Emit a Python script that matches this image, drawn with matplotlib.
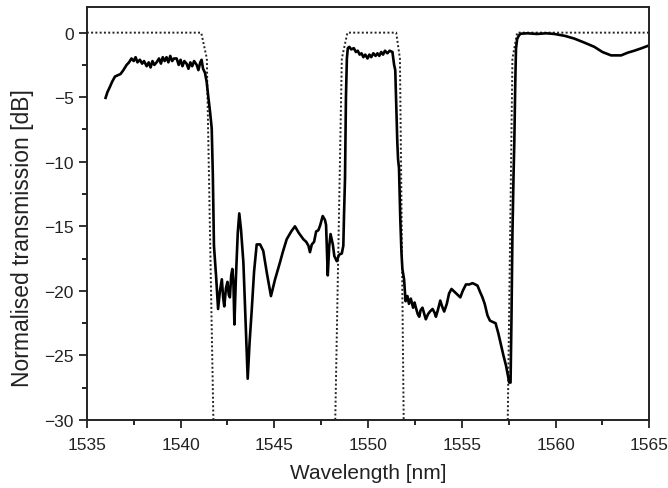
import matplotlib.pyplot as plt
from matplotlib.ticker import MultipleLocator

plt.rcParams['font.family'] = ['Liberation Sans', 'DejaVu Sans']

# target filter response (dotted)
design_x = [1535, 1541.1, 1541.4, 1541.75, 1548.25, 1548.6, 1548.9, 1551.5,
            1551.7, 1551.9, 1557.45, 1557.7, 1557.95, 1565]
design_y = [0, 0, -2, -30, -30, -2, 0, 0, -2, -30, -30, -2, 0, 0]

# measured transmission (solid)
meas_x = [1536.0, 1536.1, 1536.23, 1536.35, 1536.5, 1536.65, 1536.8, 1536.95,
          1537.12, 1537.25, 1537.38, 1537.5, 1537.6, 1537.7, 1537.83, 1537.95,
          1538.05, 1538.19, 1538.3, 1538.4, 1538.5, 1538.6, 1538.72, 1538.85,
          1538.95, 1539.05, 1539.15, 1539.25, 1539.35, 1539.45, 1539.55, 1539.65,
          1539.79, 1539.9, 1540.0, 1540.1, 1540.2, 1540.32, 1540.42, 1540.52,
          1540.62, 1540.72, 1540.86, 1540.95, 1541.05, 1541.12, 1541.2, 1541.3,
          1541.39, 1541.48, 1541.57, 1541.66, 1541.72, 1541.78,
          1541.83, 1541.9, 1542.0, 1542.1, 1542.2, 1542.27, 1542.33, 1542.42,
          1542.5, 1542.57, 1542.63, 1542.7, 1542.76, 1542.82, 1542.87, 1542.95,
          1543.05, 1543.13, 1543.22, 1543.35, 1543.47, 1543.58, 1543.68, 1543.79,
          1543.92, 1544.06, 1544.24, 1544.41, 1544.6, 1544.82, 1545.04, 1545.3,
          1545.45, 1545.66, 1545.9, 1546.1, 1546.3, 1546.55, 1546.7, 1546.82,
          1546.9, 1547.0, 1547.12, 1547.23, 1547.35, 1547.45, 1547.58, 1547.7,
          1547.76, 1547.85, 1547.93, 1548.0, 1548.12, 1548.2, 1548.33, 1548.45,
          1548.6, 1548.68, 1548.72, 1548.77, 1548.82, 1548.87, 1548.92,
          1549.0, 1549.1, 1549.24, 1549.35, 1549.45, 1549.55, 1549.65, 1549.75,
          1549.85, 1549.97, 1550.07, 1550.17, 1550.28, 1550.4, 1550.5, 1550.6,
          1550.7, 1550.8, 1550.9, 1551.03, 1551.15, 1551.3, 1551.39, 1551.45,
          1551.5, 1551.56, 1551.6, 1551.65, 1551.72, 1551.78, 1551.83, 1551.92,
          1552.0, 1552.1, 1552.18, 1552.28, 1552.4, 1552.48, 1552.55, 1552.65,
          1552.73, 1552.8, 1552.9, 1553.0, 1553.08, 1553.2, 1553.3, 1553.44,
          1553.55, 1553.62, 1553.72, 1553.85, 1553.95, 1554.06, 1554.2, 1554.32,
          1554.45, 1554.63, 1554.78, 1554.92, 1555.05, 1555.22, 1555.4, 1555.57,
          1555.72, 1555.84, 1555.95, 1556.1, 1556.22, 1556.37, 1556.5, 1556.64,
          1556.8, 1556.95, 1557.09, 1557.22, 1557.36, 1557.45, 1557.53, 1557.6,
          1557.65, 1557.7, 1557.76, 1557.8, 1557.85, 1557.89, 1557.95, 1558.05,
          1558.15, 1558.5, 1559.0, 1559.5, 1559.93, 1560.5, 1561.0, 1561.5,
          1562.07, 1562.5, 1562.96, 1563.5, 1563.85, 1564.2, 1564.6, 1565.0]
meas_y = [-5.05, -4.6, -4.2, -3.8, -3.4, -3.3, -3.2, -2.9,
          -2.5, -2.3, -2.0, -2.2, -1.9, -2.3, -2.1, -2.4,
          -2.2, -2.6, -2.3, -2.7, -2.2, -2.5, -2.3, -2.0,
          -2.4, -1.9, -2.2, -1.9, -2.3, -1.8, -2.2, -2.0,
          -2.0, -2.5, -2.1, -2.6, -2.2, -2.4, -2.8, -2.3,
          -2.6, -2.2, -2.5, -2.9, -2.3, -2.1, -2.8, -3.1,
          -3.8, -5.0, -6.1, -7.4, -11.0, -16.5,
          -17.5, -19.0, -21.4, -20.0, -19.1, -20.5, -21.2, -19.8,
          -19.3, -20.3, -20.5, -18.8, -18.3, -19.5, -22.6, -19.0,
          -15.5, -14.0, -15.2, -17.8, -22.5, -26.8, -24.0, -21.6,
          -18.5, -16.4, -16.4, -16.9, -18.6, -20.4, -19.1, -17.8,
          -17.0, -16.0, -15.4, -15.0, -15.5, -16.0, -16.2, -16.5,
          -17.0, -16.4, -16.2, -15.4, -15.3, -14.9, -14.2, -14.5,
          -14.9, -18.8, -16.5, -15.6, -16.4, -17.3, -17.7, -17.2,
          -17.1, -16.5, -14.0, -11.3, -5.0, -2.0, -1.2,
          -1.1, -1.3, -1.2, -1.5, -1.4, -1.7, -1.6, -1.9,
          -1.7, -2.0, -1.7, -1.9, -1.6, -1.8, -1.6, -1.8,
          -1.5, -1.7, -1.4, -1.6, -1.4, -1.5, -2.5, -2.9,
          -5.5, -8.5, -9.8, -10.5, -14.5, -17.0, -18.3, -19.1,
          -20.8, -20.4, -21.0, -20.6, -21.3, -20.9, -21.3, -21.8,
          -22.0, -21.5, -21.3, -21.8, -22.2, -21.8, -21.6, -21.4,
          -21.7, -22.0, -21.5, -20.75, -21.2, -21.6, -21.0, -20.2,
          -19.85, -20.1, -20.3, -20.5, -20.0, -19.5, -19.5, -19.4,
          -19.5, -19.6, -20.0, -20.5, -21.0, -21.9, -22.3, -22.4,
          -22.5, -23.3, -24.2, -25.0, -25.8, -26.5, -27.1, -27.1,
          -22.0, -15.6, -11.0, -8.5, -4.0, -1.24, -0.5, -0.2,
          -0.08, -0.05, -0.1, -0.05, -0.1, -0.25, -0.46, -0.75,
          -1.1, -1.5, -1.76, -1.76, -1.55, -1.4, -1.2, -0.98]

fig = plt.figure(figsize=(6.68, 4.89), dpi=100)
ax = fig.add_axes([0.130, 0.139, 0.842, 0.845])

ax.plot(design_x, design_y, color='#222222', lw=1.4, linestyle=(0, (1, 1.2)))
ax.plot(meas_x, meas_y, color='black', lw=1.9)

ax.set_xlim(1535, 1565)
ax.set_ylim(-30, 2)
ax.xaxis.set_major_locator(MultipleLocator(5))
ax.xaxis.set_minor_locator(MultipleLocator(2.5))
ax.yaxis.set_major_locator(MultipleLocator(5))
ax.yaxis.set_minor_locator(MultipleLocator(2.5))
ax.tick_params(which='major', direction='out', length=6, width=1.3,
               labelsize=12.5, colors='#222222')
ax.tick_params(axis='x', which='major', pad=6)
ax.tick_params(which='minor', direction='out', length=3.5, width=1.2)
for s in ax.spines.values():
    s.set_linewidth(1.4)
    s.set_color('#222222')

ax.set_xlabel('Wavelength [nm]', fontsize=15, color='#222222', labelpad=8)
ax.set_ylabel('Normalised transmission [dB]', fontsize=16.5, color='#222222')
ax.yaxis.set_label_coords(-0.094, 0.444)

fig.savefig('out.png', dpi=100)
